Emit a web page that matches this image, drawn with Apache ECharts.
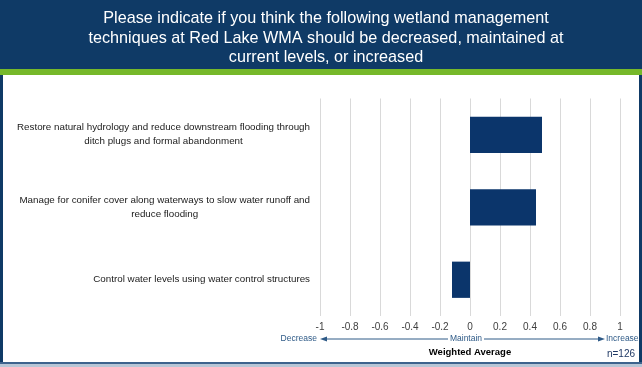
<!DOCTYPE html>
<html>
<head>
<meta charset="utf-8">
<script src="https://cdn.jsdelivr.net/npm/echarts@6/dist/echarts.min.js"></script>
<style>
  html, body { margin: 0; padding: 0; background: #fff; }
  #chart { width: 642px; height: 367px; }
</style>
</head>
<body>
<div id="chart"></div>
<script>
// data
var categories = [
  "Restore natural hydrology and reduce downstream flooding through\nditch plugs and formal abandonment",
  "Manage for conifer cover along waterways to slow water runoff and\nreduce flooding",
  "Control water levels using water control structures"
];
var values = [0.48, 0.44, -0.12];
var xTicks = [-1, 1, 0.2]; // min, max, step

var chart = echarts.init(document.getElementById("chart"));
var navy = "#0f3a66";
var font = "Liberation Sans";

var option = {
  animation: false,
  textStyle: { fontFamily: font },
  title: {
    text: "Please indicate if you think the following wetland management\ntechniques at Red Lake WMA should be decreased, maintained at\ncurrent levels, or increased",
    left: 321,
    top: 4,
    textAlign: "center",
    textStyle: { color: "#fff", fontSize: 16.2, fontWeight: "normal", lineHeight: 19.5, fontFamily: font }
  },
  grid: { left: 320, right: 22, top: 98.5, bottom: 51 },
  xAxis: {
    type: "value",
    min: xTicks[0],
    max: xTicks[1],
    interval: xTicks[2],
    axisLine: { show: false },
    axisTick: { show: false },
    splitLine: { lineStyle: { color: "#d9d9d9", width: 1 } },
    axisLabel: {
      color: "#404040",
      fontSize: 10,
      margin: 6,
      formatter: function (v) { return String(Math.round(v * 10) / 10); }
    },
    name: "Weighted Average",
    nameLocation: "middle",
    nameGap: 31,
    nameTextStyle: { color: "#000", fontSize: 9.5, fontWeight: "bold" }
  },
  yAxis: {
    type: "category",
    inverse: true,
    data: categories,
    axisLine: { show: false },
    axisTick: { show: false },
    axisLabel: {
      margin: 10,
      formatter: function (v) {
        return v.split("\n").map(function (s) { return "{a|" + s + "}"; }).join("\n");
      },
      rich: {
        a: { align: "center", fontSize: 9.8, lineHeight: 14, color: "#1a1a1a", fontFamily: font }
      }
    }
  },
  series: [{
    type: "bar",
    data: values,
    barWidth: "50%",
    itemStyle: { color: "#0b356b" }
  }]
};
chart.setOption(option);

// decoration: header band, frame, the decrease/maintain/increase arrow
var px = function (v) { return chart.convertToPixel({ xAxisIndex: 0 }, v); };
var xMin = px(xTicks[0]), xMax = px(xTicks[1]), x0 = px(0);
var arrowY = 339;
var arrowColor = "#2e5a87";
chart.setOption({
  graphic: [
    { type: "rect", z: -10, silent: true, shape: { x: 0, y: 0, width: 642, height: 69 }, style: { fill: navy } },
    { type: "rect", z: -10, silent: true, shape: { x: 0, y: 69, width: 642, height: 6 }, style: { fill: "#76b82a" } },
    { type: "rect", z: -10, silent: true, shape: { x: 0, y: 75, width: 3, height: 292 }, style: { fill: navy } },
    { type: "rect", z: -10, silent: true, shape: { x: 639, y: 75, width: 3, height: 292 }, style: { fill: navy } },
    { type: "rect", z: -10, silent: true, shape: { x: 0, y: 362, width: 642, height: 2 }, style: { fill: "#3d638d" } },
    { type: "rect", z: -10, silent: true, shape: { x: 0, y: 364, width: 642, height: 3 }, style: { fill: "#b7c6d6" } },
    { type: "line", silent: true, shape: { x1: xMin + 4, y1: arrowY, x2: x0 - 22, y2: arrowY }, style: { stroke: arrowColor, lineWidth: 1 } },
    { type: "polygon", silent: true, shape: { points: [[xMin, arrowY], [xMin + 7, arrowY - 2.5], [xMin + 7, arrowY + 2.5]] }, style: { fill: arrowColor } },
    { type: "line", silent: true, shape: { x1: x0 + 14, y1: arrowY, x2: xMax - 18, y2: arrowY }, style: { stroke: arrowColor, lineWidth: 1 } },
    { type: "polygon", silent: true, shape: { points: [[xMax - 15, arrowY], [xMax - 22, arrowY - 2.5], [xMax - 22, arrowY + 2.5]] }, style: { fill: arrowColor } },
    { type: "text", silent: true, x: x0 - 4, y: arrowY, style: { text: "Maintain", fill: arrowColor, font: "8.5px " + font, align: "center", verticalAlign: "middle" } },
    { type: "text", silent: true, x: xMin - 3, y: arrowY, style: { text: "Decrease", fill: arrowColor, font: "8.5px " + font, align: "right", verticalAlign: "middle" } },
    { type: "text", silent: true, x: xMax - 14, y: arrowY, style: { text: "Increase", fill: arrowColor, font: "8.5px " + font, align: "left", verticalAlign: "middle" } },
    { type: "text", silent: true, x: xMax + 15, y: 354, style: { text: "n=126", fill: "#1f3864", font: "10px " + font, align: "right", verticalAlign: "middle" } }
  ]
});
</script>
</body>
</html>
